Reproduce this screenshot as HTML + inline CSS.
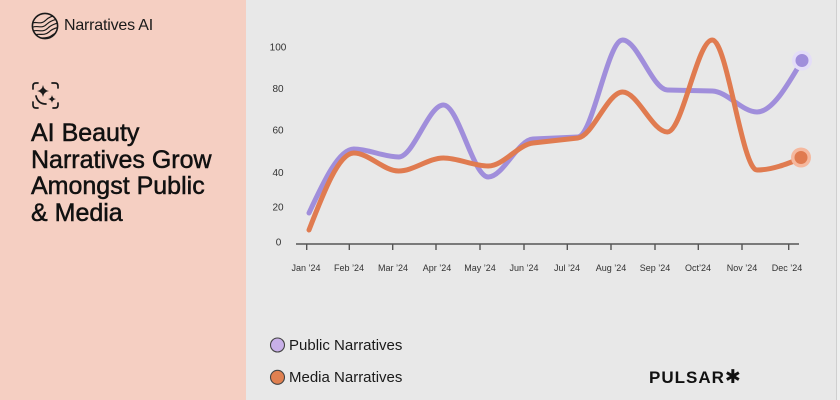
<!DOCTYPE html>
<html>
<head>
<meta charset="utf-8">
<style>
  html,body{margin:0;padding:0;}
  body{width:840px;height:400px;overflow:hidden;background:#e8e8e8;position:relative;font-family:"Liberation Sans",sans-serif;}
  .left{position:absolute;left:0;top:0;width:246px;height:400px;background:#f5cfc2;}
  .brand{position:absolute;left:64px;top:17px;font-size:16px;color:#1a1a1a;letter-spacing:-0.2px;}
  .title{position:absolute;left:31px;top:120px;font-size:25px;line-height:26.7px;color:#111;-webkit-text-stroke:0.5px #111;letter-spacing:0;}
  .leg{position:absolute;left:289px;font-size:15px;letter-spacing:0;color:#1a1a1a;}
  .pulsar{position:absolute;left:649px;top:366px;font-size:17px;font-weight:bold;letter-spacing:1px;color:#111;}
</style>
</head>
<body>
<div class="left"></div>

<svg width="840" height="400" style="position:absolute;left:0;top:0;">
  <defs>
    <clipPath id="lc"><circle cx="45" cy="26" r="12.5"/></clipPath>
  </defs>
  <circle cx="45" cy="26" r="12.6" fill="none" stroke="#1a1a1a" stroke-width="1.6"/>
  <g clip-path="url(#lc)" fill="none" stroke="#1a1a1a" stroke-width="1.2">
    <path d="M31,24 C36,20 40,26 46,20 C50,16 54,16 60,14"/>
    <path d="M31,28 C37,24 41,30 47,24 C51,20 55,20 60,18"/>
    <path d="M31,32 C37,28 42,34 48,28 C52,24 56,24 60,22"/>
    <path d="M31,36 C38,32 43,37 49,32 C53,28 57,28 60,27"/>
    <path d="M33,40 C40,36 45,40 51,36 C55,33 58,32 60,31"/>
  </g>
  <g fill="none" stroke="#1a1a1a" stroke-width="1.7" stroke-linecap="round">
    <path d="M33,89 V86 Q33,83 36,83 H38"/>
    <path d="M52,83 H55 Q58,83 58,86 V88"/>
    <path d="M33,102 V105 Q33,108 36,108 H38"/>
    <path d="M58,103 V105 Q58,108 55,108 H53"/>
    <path d="M36,96 Q38,104 46,104"/>
  </g>
  <path d="M43,85 Q43.8,90.2 49,91 Q43.8,91.8 43,97 Q42.2,91.8 37,91 Q42.2,90.2 43,85 Z" fill="#1a1a1a"/>
  <path d="M52,95 Q52.5,98.5 56,99 Q52.5,99.5 52,103 Q51.5,99.5 48,99 Q51.5,98.5 52,95 Z" fill="#1a1a1a"/>

  <rect x="836" y="0" width="1" height="400" fill="#cfcfcf"/>
  <rect x="837" y="0" width="3" height="400" fill="#efefef"/>

  <g font-family="Liberation Sans, sans-serif" font-size="10" fill="#333" text-anchor="middle">
    <text x="278" y="50.5">100</text>
    <text x="278" y="92">80</text>
    <text x="278" y="133.7">60</text>
    <text x="278" y="176">40</text>
    <text x="278" y="210.7">20</text>
    <text x="278.5" y="245.5">0</text>
  </g>

  <line x1="296" y1="244" x2="799" y2="244" stroke="#555" stroke-width="1.6"/>
  <g stroke="#555" stroke-width="1.4">
    <line x1="306.7" y1="244" x2="306.7" y2="250"/>
    <line x1="349.3" y1="244" x2="349.3" y2="250"/>
    <line x1="392.7" y1="244" x2="392.7" y2="250"/>
    <line x1="436" y1="244" x2="436" y2="250"/>
    <line x1="480" y1="244" x2="480" y2="250"/>
    <line x1="524" y1="244" x2="524" y2="250"/>
    <line x1="567.3" y1="244" x2="567.3" y2="250"/>
    <line x1="611" y1="244" x2="611" y2="250"/>
    <line x1="655" y1="244" x2="655" y2="250"/>
    <line x1="698.3" y1="244" x2="698.3" y2="250"/>
    <line x1="742" y1="244" x2="742" y2="250"/>
    <line x1="788.7" y1="244" x2="788.7" y2="250"/>
  </g>
  <g font-family="Liberation Sans, sans-serif" font-size="9" fill="#333" text-anchor="middle">
    <text x="306" y="271">Jan ’24</text>
    <text x="349" y="271">Feb ’24</text>
    <text x="393" y="271">Mar ’24</text>
    <text x="437" y="271">Apr ’24</text>
    <text x="480" y="271">May ’24</text>
    <text x="524" y="271">Jun ’24</text>
    <text x="567" y="271">Jul ’24</text>
    <text x="611" y="271">Aug ’24</text>
    <text x="655" y="271">Sep ’24</text>
    <text x="698" y="271">Oct’24</text>
    <text x="742" y="271">Nov ’24</text>
    <text x="787" y="271">Dec ’24</text>
  </g>

  <path fill="none" stroke="#a08edb" stroke-width="5" stroke-linecap="round" stroke-linejoin="round"
    d="M309,213 C323.9,181 338.9,149 353.8,149 C368.7,149 383.7,157 398.6,157 C413.5,157 428.5,105 443.4,105 C458.3,105 473.3,177 488.2,177 C503.1,177 518.1,139.7 533,139 C547.9,138.3 562.9,137.7 577.8,137 C592.7,136.3 607.7,40 622.6,40 C637.5,40 652.5,89.7 667.4,90 C682.3,90.3 697.3,90.7 712.2,91 C727.1,91.3 742.1,112 757,112 C771.9,112 786.9,86.5 801.8,61"/>
  <path fill="none" stroke="#e07b50" stroke-width="5" stroke-linecap="round" stroke-linejoin="round"
    d="M309,230 C323.9,191.5 338.9,153 353.8,153 C368.7,153 383.7,171 398.6,171 C413.5,171 428.5,158 443.4,158 C458.3,158 473.3,166 488.2,166 C503.1,166 518.1,144.7 533,143 C547.9,141.3 562.9,139.7 577.8,138 C592.7,136.3 607.7,92 622.6,92 C637.5,92 652.5,132 667.4,132 C682.3,132 697.3,40 712.2,40 C727.1,40 742.1,170 757,170 C771.9,170 786.9,164 801.8,158"/>

  <circle cx="802" cy="60.5" r="10" fill="#e4ddf8"/>
  <circle cx="802" cy="60.5" r="6.5" fill="#a08edb"/>
  <circle cx="801" cy="157.5" r="10" fill="#f5b89e"/>
  <circle cx="801" cy="157.5" r="6.5" fill="#e07b50"/>

  <circle cx="277.5" cy="345" r="7" fill="#c8b0e8" stroke="#444" stroke-width="1.1"/>
  <circle cx="277.5" cy="377.3" r="7" fill="#e08050" stroke="#444" stroke-width="1.1"/>
</svg>

<div class="brand">Narratives AI</div>
<div class="title">AI Beauty<br>Narratives Grow<br>Amongst Public<br>&amp; Media</div>

<div class="leg" style="top:337px;">Public Narratives</div>
<div class="leg" style="top:369px;">Media Narratives</div>
<div class="pulsar">PULSAR<span style="font-family:'DejaVu Sans',sans-serif;font-size:19px;letter-spacing:0;">✱</span></div>
</body>
</html>
